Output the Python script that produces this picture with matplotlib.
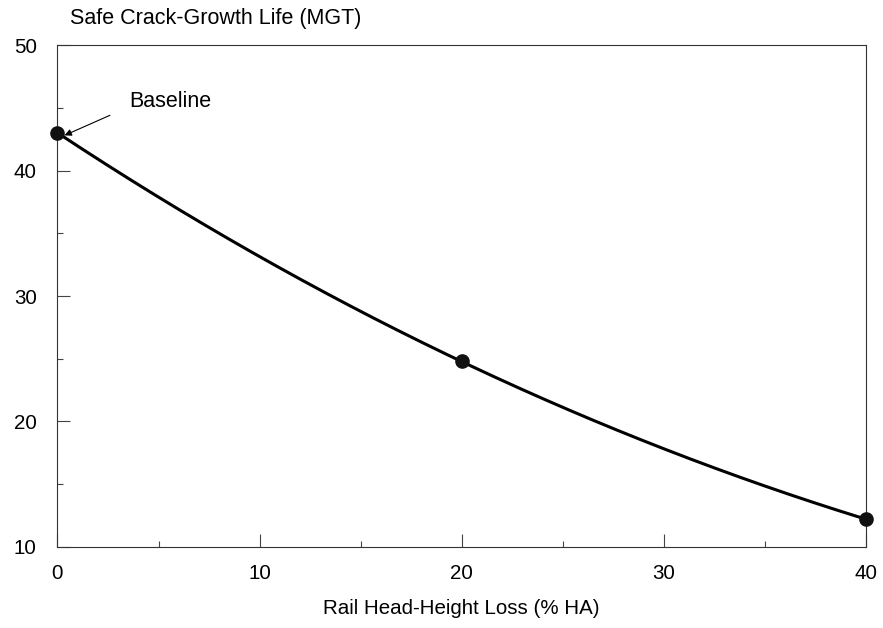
import numpy as np
import matplotlib.pyplot as plt
from matplotlib.ticker import MultipleLocator

plt.rcParams['font.family'] = ['Liberation Sans', 'DejaVu Sans']

# -----------------------------
# data
# -----------------------------
head_loss = [0, 5, 10, 15, 20, 25, 30, 35, 40]            # % HA
crack_life = [43.0, 37.9, 33.1, 28.8, 24.8, 21.1, 17.8, 14.9, 12.2]  # MGT

point_loss = [0, 20, 40]
point_life = [43.0, 24.8, 12.2]

# smooth curve through the readings
coef = np.polyfit(head_loss, crack_life, 3)
xs = np.linspace(head_loss[0], head_loss[-1], 200)
ys = np.polyval(coef, xs)

# -----------------------------
# plot
# -----------------------------
fig = plt.figure(figsize=(8.83, 6.28), dpi=100)
ax = fig.add_axes([0.0651, 0.129, 0.9156, 0.7993])

ax.plot(xs, ys, color='black', lw=2.2, zorder=3)
ax.plot(point_loss, point_life, 'o', color='#111111', ms=9.5, zorder=4, clip_on=False)

ax.set_xlim(0, 40)
ax.set_ylim(10, 50)
ax.xaxis.set_major_locator(MultipleLocator(10))
ax.xaxis.set_minor_locator(MultipleLocator(5))
ax.yaxis.set_major_locator(MultipleLocator(10))
ax.yaxis.set_minor_locator(MultipleLocator(5))
ax.tick_params(which='both', direction='in', top=False, right=False,
               labelsize=14.8, width=0.8, color='#444444')
ax.tick_params(which='major', length=9.5)
ax.tick_params(which='minor', length=4.5)
ax.tick_params(axis='x', pad=12)
ax.tick_params(axis='y', pad=15)
for s in ax.spines.values():
    s.set_linewidth(0.8)
    s.set_color('#333333')

ax.set_xlabel("Rail Head-Height Loss (% HA)", fontsize=14.8, labelpad=12)
fig.text(0.0793, 0.971, "Safe Crack-Growth Life (MGT)", fontsize=15.5,
         ha='left', va='center')

ax.annotate("Baseline", xy=(0.35, 42.8), xytext=(3.55, 45.5),
            fontsize=15.5, va='center', ha='left',
            arrowprops=dict(arrowstyle='-|>', color='black', lw=0.8,
                            mutation_scale=10, shrinkA=13, shrinkB=0,
                            relpos=(0, 0.25)))

fig.savefig("out.png", dpi=100)
